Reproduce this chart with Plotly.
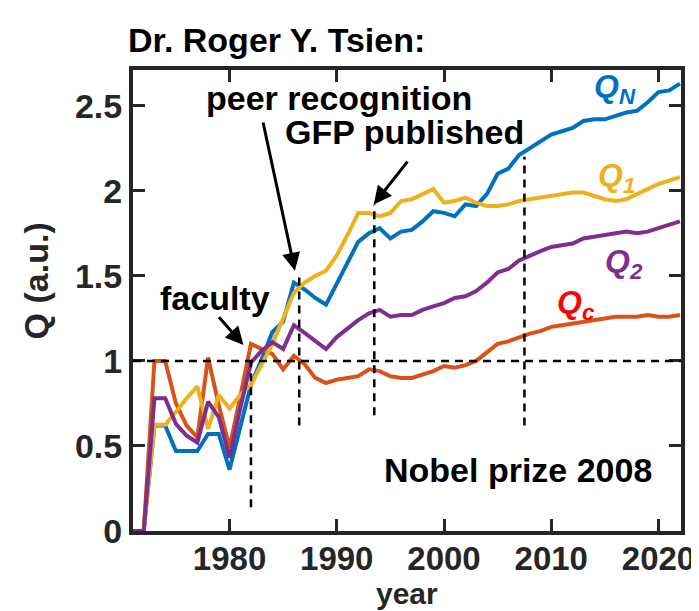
import plotly.graph_objects as go

years = list(range(1971, 2023))

q_n = [0, 0, 0.62, 0.62, 0.47, 0.47, 0.47, 0.57, 0.57, 0.36, 0.62, 0.86, 1.01, 1.17, 1.23, 1.46,
       1.42, 1.37, 1.33, 1.45, 1.57, 1.70, 1.75, 1.78, 1.72, 1.76, 1.77, 1.82, 1.88, 1.87, 1.85,
       1.92, 1.91, 1.98, 2.10, 2.13, 2.21, 2.25, 2.29, 2.33, 2.35, 2.37, 2.41, 2.42, 2.42, 2.44,
       2.46, 2.47, 2.52, 2.58, 2.59, 2.63]
q_1 = [0, 0, 0.625, 0.625, 0.70, 0.78, 0.85, 0.60, 0.80, 0.72, 0.80, 0.86, 0.98, 1.10, 1.25, 1.40,
       1.46, 1.50, 1.53, 1.62, 1.74, 1.87, 1.87, 1.85, 1.87, 1.94, 1.95, 1.98, 2.01, 1.93, 1.94,
       1.96, 1.93, 1.91, 1.91, 1.92, 1.94, 1.95, 1.96, 1.97, 1.98, 1.99, 1.99, 1.97, 1.95, 1.94,
       1.95, 1.98, 2.01, 2.04, 2.06, 2.08]
q_2 = [0, 0, 0.78, 0.78, 0.63, 0.56, 0.52, 0.76, 0.67, 0.43, 0.72, 0.99, 1.06, 1.11, 1.07, 1.21,
       1.165, 1.12, 1.07, 1.14, 1.19, 1.24, 1.28, 1.30, 1.26, 1.27, 1.27, 1.30, 1.32, 1.34, 1.37,
       1.38, 1.41, 1.46, 1.52, 1.54, 1.59, 1.62, 1.645, 1.67, 1.68, 1.69, 1.72, 1.73, 1.74, 1.75,
       1.76, 1.75, 1.76, 1.78, 1.80, 1.82]
q_c = [0, 0, 1.0, 1.0, 0.75, 0.62, 0.55, 1.02, 0.74, 0.49, 0.79, 1.10, 1.07, 1.04, 0.95, 1.03,
       0.98, 0.90, 0.87, 0.89, 0.90, 0.91, 0.95, 0.94, 0.91, 0.90, 0.90, 0.92, 0.94, 0.97, 0.96,
       0.975, 1.0, 1.05, 1.10, 1.115, 1.14, 1.16, 1.175, 1.20, 1.21, 1.22, 1.23, 1.24, 1.25, 1.26,
       1.26, 1.26, 1.27, 1.26, 1.26, 1.27]

x_ticks = [1980, 1990, 2000, 2010, 2020]
y_ticks = [0, 0.5, 1, 1.5, 2, 2.5]
y_tick_labels = ["0", "0.5", "1", "1.5", "2", "2.5"]

# career events: year of marker, lower and upper extent of dashed marker
event_years = [1982, 1986.5, 1993.5, 2007.5]
event_low = [0.14, 0.62, 0.68, 0.62]
event_high = [1.0, 1.5, 1.92, 2.2]
reference_level = 1.0

BLUE = "#0072BD"
ORANGE = "#D95319"
YELLOW = "#EDB120"
PURPLE = "#7E2F8E"
AXC = "#262626"
FONT = "Liberation Sans, Arial, sans-serif"

W, H = 699, 611
ML, MR, MT, MB = 125, 18, 62, 88
PW, PH = W - ML - MR, H - MT - MB

def px_x(p):  # pixel x -> paper
    return (p - ML) / PW

def px_y(p):  # pixel y -> paper
    return (H - MB - p) / PH

fig = go.Figure()
for vals, col in [(q_n, BLUE), (q_c, ORANGE), (q_1, YELLOW), (q_2, PURPLE)]:
    fig.add_trace(go.Scatter(x=years, y=vals, mode="lines",
                             line=dict(color=col, width=4), showlegend=False))

shapes = [dict(type="line", xref="paper", yref="y", x0=0, x1=1,
               y0=reference_level, y1=reference_level,
               line=dict(color="black", width=2.5, dash="8px,6px"))]
for ex, lo, hi in zip(event_years, event_low, event_high):
    shapes.append(dict(type="line", xref="x", yref="y", x0=ex, x1=ex, y0=lo, y1=hi,
                       line=dict(color="black", width=2.5, dash="8px,6px")))

tf = dict(family=FONT, size=34, color="black", weight="bold")
ann = []

def txt(x, y, s, **kw):
    d = dict(x=x, y=y, xref="x", yref="y", text=s, showarrow=False, font=tf,
             xanchor="center", yanchor="middle")
    d.update(kw)
    ann.append(d)

txt(1990.2, 2.545, "peer recognition")
txt(1996.3, 2.345, "GFP published")
txt(1978.6, 1.37, "faculty")
txt(2006.9, 0.36, "Nobel prize 2008")

def qlab(x, y, sub, col):
    txt(x, y, f"<i>Q<sub>{sub}</sub></i>",
        font=dict(family=FONT, size=32, color=col, weight="bold"))

qlab(2015.9, 2.6, "N", BLUE)
qlab(2016.1, 2.08, "1", YELLOW)
qlab(2016.8, 1.57, "2", PURPLE)
qlab(2012.3, 1.33, "c", "#FF0000")

def arrow(tx, ty, hx, hy):
    ann.append(dict(x=hx, y=hy, ax=tx, ay=ty, xref="x", yref="y", axref="x", ayref="y",
                    text="", showarrow=True, arrowhead=2, arrowsize=1.2, arrowwidth=3,
                    arrowcolor="black"))

arrow(1983.1, 2.41, 1986.1, 1.53)
arrow(1978.9, 1.265, 1981.3, 1.094)
arrow(1996.7, 2.18, 1993.45, 1.92)

# title and axis titles
ann.append(dict(xref="paper", yref="paper", x=px_x(271), y=px_y(32), text="Dr. Roger Y. Tsien:",
                showarrow=False, font=tf, xanchor="center", yanchor="middle"))
ann.append(dict(xref="paper", yref="paper", x=px_x(403), y=px_y(603), text="year",
                showarrow=False, xanchor="center", yanchor="bottom", borderpad=0,
                font=dict(family=FONT, size=30, color=AXC, weight="bold")))
ann.append(dict(xref="paper", yref="paper", x=px_x(27), y=px_y(273), text="Q (a.u.)",
                showarrow=False, xanchor="center", yanchor="middle", textangle=-90,
                font=dict(family=FONT, size=34, color=AXC, weight="bold")))

fig.update_layout(
    annotations=ann, shapes=shapes,
    width=W, height=H,
    margin=dict(l=ML, r=MR, t=MT, b=MB),
    paper_bgcolor="white", plot_bgcolor="white",
    font=dict(family=FONT, color=AXC),
)
fig.update_xaxes(range=[1971, 2022.1], tickvals=x_ticks, ticks="inside", ticklen=12,
                 tickwidth=3, tickcolor=AXC, showline=True, linecolor=AXC, linewidth=4,
                 mirror="ticks", showgrid=False, zeroline=False, ticklabelstandoff=-5,
                 tickfont=dict(family=FONT, size=33, color=AXC, weight="bold"))
fig.update_yaxes(range=[0, 2.71], tickvals=y_ticks, ticktext=y_tick_labels, ticks="inside",
                 ticklen=12, tickwidth=3, tickcolor=AXC, showline=True, linecolor=AXC,
                 linewidth=4, mirror="ticks", showgrid=False, zeroline=False,
                 tickfont=dict(family=FONT, size=34, color=AXC, weight="bold"))

fig.write_html("out.html")
